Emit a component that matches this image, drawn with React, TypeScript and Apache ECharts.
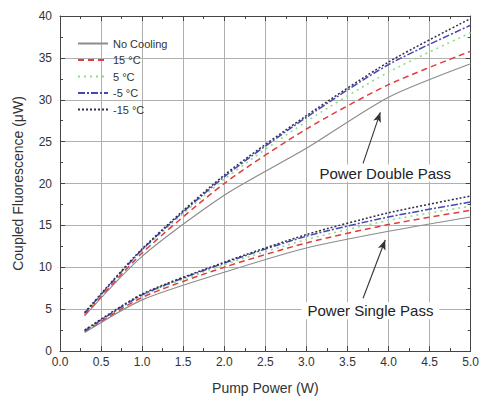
import React, { useEffect, useRef } from "react";
import * as echarts from "echarts";

const xValues = [0.3, 1, 2, 3, 4, 5];
const seriesNames = ["No Cooling", "15 °C", "5 °C", "-5 °C", "-15 °C"];

const doubleNoCooling = [4.2, 11.3, 18.6, 24.2, 30.3, 34.3];
const double15 = [4.3, 11.7, 20.0, 26.5, 31.8, 35.8];
const double5 = [4.4, 12.0, 20.5, 27.4, 33.3, 38.0];
const doubleM5 = [4.5, 12.1, 20.8, 27.9, 34.2, 38.9];
const doubleM15 = [4.6, 12.2, 21.0, 28.1, 34.5, 39.7];

const singleNoCooling = [2.2, 6.1, 9.4, 12.3, 14.3, 16.0];
const single15 = [2.3, 6.4, 10.0, 12.9, 15.1, 16.8];
const single5 = [2.4, 6.6, 10.3, 13.3, 15.6, 17.3];
const singleM5 = [2.4, 6.7, 10.5, 13.7, 16.0, 17.8];
const singleM15 = [2.5, 6.8, 10.6, 13.9, 16.5, 18.5];

const doubleSets = [doubleNoCooling, double15, double5, doubleM5, doubleM15];
const singleSets = [singleNoCooling, single15, single5, singleM5, singleM15];

// annotations in data coordinates
const doubleArrow = { from: [3.69, 22.4], to: [3.9, 28.5] };
const singleArrow = { from: [3.69, 6.3], to: [3.96, 13.25] };
const doubleLabel = { text: "Power Double Pass", at: [3.96, 21.25] };
const singleLabel = { text: "Power Single Pass", at: [3.78, 4.8] };

const styles: any[] = [
  { color: "#8c8c8c", type: "solid", width: 1.2 },
  { color: "#e23c3c", type: [6, 4], width: 1.5 },
  { color: "#8fdc8f", type: [2, 4], width: 1.6 },
  { color: "#4747b8", type: [7, 2, 2, 2], width: 1.5 },
  { color: "#2f2f4a", type: [2, 2], width: 1.5 },
];

const FONT = "Liberation Sans, Arial, sans-serif";

export default function App() {
  const ref = useRef<HTMLDivElement>(null);
  useEffect(() => {
    if (!ref.current) return;
    const chart = echarts.init(ref.current, undefined, { renderer: "svg" });
    const series: any[] = [];
    seriesNames.forEach((name, i) => {
      const base = {
        name,
        type: "line",
        symbol: "none",
        smooth: 0.25,
        lineStyle: { ...styles[i] },
        itemStyle: { color: styles[i].color },
        xAxisIndex: 0,
        yAxisIndex: 0,
        z: 3 + i,
      };
      const d: any = {
        ...base,
        data: xValues.map((x, k) => [x, doubleSets[i][k]]),
      };
      if (i === 0) {
        d.markLine = {
          silent: true,
          symbol: ["none", "arrow"],
          symbolSize: [6, 10],
          label: { show: false },
          lineStyle: { color: "#333", type: "solid", width: 1.1 },
          data: [
            [{ coord: doubleArrow.from }, { coord: doubleArrow.to }],
            [{ coord: singleArrow.from }, { coord: singleArrow.to }],
          ],
        };
      }
      series.push(d);
      series.push({
        ...base,
        data: xValues.map((x, k) => [x, singleSets[i][k]]),
      });
    });

    const axisCommon = {
      axisLine: { show: true, onZero: false, lineStyle: { color: "#444", width: 1 } },
      axisTick: { show: true, inside: true, length: 5, lineStyle: { color: "#444" } },
      minorTick: { show: true, splitNumber: 2, length: 3, lineStyle: { color: "#444" } },
    };

    chart.setOption({
      animation: false,
      backgroundColor: "#fff",
      grid: { left: 60, right: 9, top: 16, bottom: 50, containLabel: false },
      legend: {
        data: seriesNames,
        orient: "vertical",
        left: 72,
        top: 33,
        itemWidth: 30,
        itemHeight: 11,
        itemGap: 5.5,
        itemStyle: { opacity: 0 },
        textStyle: { fontSize: 11, color: "#333", fontFamily: FONT },
        selectedMode: false,
      },
      xAxis: [
        {
          type: "value",
          min: 0,
          max: 5,
          interval: 0.5,
          position: "bottom",
          name: "Pump Power (W)",
          nameLocation: "middle",
          nameGap: 30,
          nameTextStyle: { fontSize: 14, color: "#333", fontFamily: FONT },
          axisLabel: {
            fontSize: 12,
            color: "#333",
            fontFamily: FONT,
            margin: 5,
            formatter: (v: number) => v.toFixed(1),
          },
          splitLine: { show: true, lineStyle: { color: "#b0b0b0", width: 1 } },
          ...axisCommon,
        },
        {
          type: "value",
          min: 0,
          max: 5,
          interval: 0.5,
          position: "top",
          axisLabel: { show: false },
          splitLine: { show: false },
          ...axisCommon,
        },
      ],
      yAxis: [
        {
          type: "value",
          min: 0,
          max: 40,
          interval: 5,
          position: "left",
          name: "Coupled Fluorescence (\u03bcW)",
          nameLocation: "middle",
          nameGap: 35,
          nameTextStyle: { fontSize: 14, color: "#333", fontFamily: FONT },
          axisLabel: { fontSize: 12, color: "#333", fontFamily: FONT, margin: 8 },
          splitLine: { show: true, lineStyle: { color: "#b0b0b0", width: 1 } },
          ...axisCommon,
        },
        {
          type: "value",
          min: 0,
          max: 40,
          interval: 5,
          position: "right",
          axisLabel: { show: false },
          splitLine: { show: false },
          ...axisCommon,
        },
      ],
      series,
    });

    const mk = (lbl: { text: string; at: number[] }) => {
      const p = chart.convertToPixel({ gridIndex: 0 }, lbl.at) as number[];
      return {
        type: "text",
        x: p[0],
        y: p[1],
        z: 100,
        style: {
          text: lbl.text,
          fontSize: 15,
          fontFamily: FONT,
          fill: "#222",
          align: "center",
          verticalAlign: "middle",
          backgroundColor: "#fff",
          padding: [1, 6, 1, 6],
        },
      };
    };
    chart.setOption({ graphic: [mk(doubleLabel), mk(singleLabel)] });

    return () => chart.dispose();
  }, []);
  return (
    <div
      ref={ref}
      style={{ position: "fixed", left: 0, top: 0, width: 482, height: 401 }}
    />
  );
}
